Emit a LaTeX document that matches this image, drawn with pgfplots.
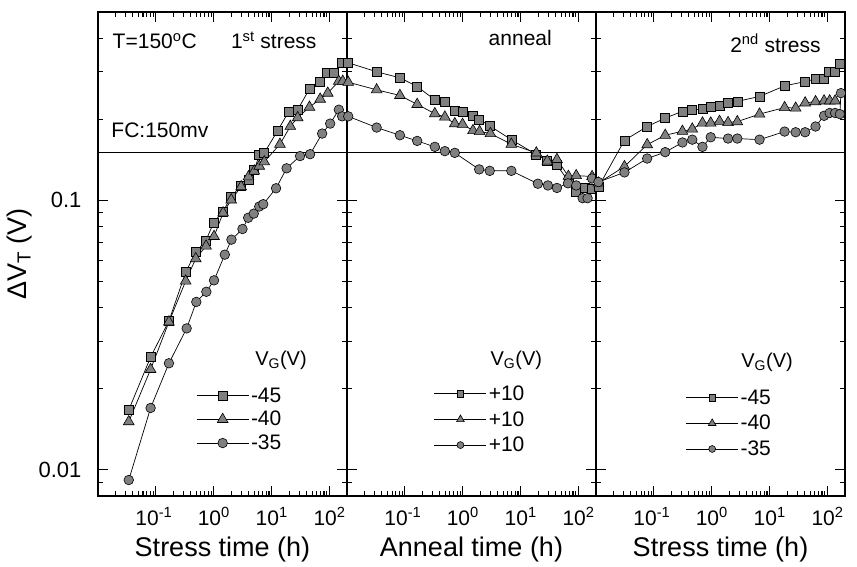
\documentclass[border=0pt]{standalone}
\usepackage{fontspec}
\setmainfont{Liberation Sans}
\usepackage{pgfplots}
\pgfplotsset{compat=1.18}
\definecolor{mk}{gray}{0.5}
\newcommand{\fs}[1]{\fontsize{#1}{#1}\selectfont}
\newcommand{\xlabels}[1]{%
  \node[anchor=base, font=\fs{21}] at (axis cs:0.1,0.008) [xshift=-2pt, yshift=-29pt] {10\textsuperscript{-1}};
  \node[anchor=base, font=\fs{21}] at (axis cs:1,0.008) [yshift=-29pt] {10\textsuperscript{0}};
  \node[anchor=base, font=\fs{21}] at (axis cs:10,0.008) [yshift=-29pt] {10\textsuperscript{1}};
  \node[anchor=base, font=\fs{21}] at (axis cs:100,0.008) [yshift=-29pt] {10\textsuperscript{2}};
  \node[anchor=base, font=\fs{27}] at (axis description cs:0.5,0) [yshift=-60pt] {#1};
}
\tikzset{
  sq/.style={black, line width=0.7pt, mark=square*, mark size=4.5pt, mark options={fill=mk, draw=black, line width=0.6pt, solid}},
  tri/.style={black, line width=0.7pt, mark=triangle*, mark size=6.2pt, mark options={fill=mk, draw=black, line width=0.6pt, solid}},
  ci/.style={black, line width=0.7pt, mark=*, mark size=4.8pt, mark options={fill=mk, draw=black, line width=0.6pt, solid}},
}
\pgfplotsset{
  legend image code/.code={\draw[mark repeat=2,mark phase=2,#1] plot coordinates {(0pt,0pt) (26pt,0pt) (52pt,0pt)};},
  every axis/.append style={
    scale only axis, width=249pt, height=484pt,
    clip=false,
    xmode=log, ymode=log, xmin=0.01, xmax=200, ymin=0.008, ymax=0.5,
    axis line style={line width=1.4pt},
    tick align=inside, major tick length=10pt, minor tick length=5pt,
    every tick/.append style={black, line width=1.1pt},
    tick pos=both,
    xtick={0.1,1,10,100},
    xticklabels={},
    minor xtick={0.02,0.03,0.04,0.05,0.06,0.07,0.08,0.09,0.2,0.3,0.4,0.5,0.6,0.7,0.8,0.9,2,3,4,5,6,7,8,9,20,30,40,50,60,70,80,90,200},
    ytick={0.01,0.1},
    minor ytick={0.009,0.02,0.03,0.04,0.05,0.06,0.07,0.08,0.09,0.2,0.3,0.4},
    yticklabels={},
    yticklabel style={font=\fs{22}, xshift=-13pt},
    ylabel style={font=\fs{27}},
    legend style={draw=none, fill=none, font=\fs{21}, row sep=3.5pt, inner sep=0pt},
    legend cell align=left,
  },
}
\begin{document}
\begin{tikzpicture}[x=1pt,y=1pt]
\path[use as bounding box] (0,0) rectangle (857,567);
% ---------------- Panel 1: 1st stress
\begin{axis}[at={(98pt,71pt)}, anchor=south west,
  yticklabels={{\fs{22}0.01},{\fs{22}0.1}},
  ylabel={ΔV\textsubscript{T} (V)},
  legend style={at={(axis description cs:0.394,0.228)}, anchor=north west}]
\addplot[sq] coordinates {(0.034,0.0167) (0.081,0.0262) (0.168,0.0357) (0.327,0.0541) (0.488,0.0643) (0.73,0.0709) (1.0,0.0829) (1.45,0.091) (2.0,0.1033) (2.95,0.1134) (4.0,0.119) (5.0,0.130) (6.1,0.147) (7.45,0.150) (12.6,0.181) (19.6,0.213) (28.1,0.217) (44.9,0.259) (66.8,0.276) (89.4,0.298) (118,0.298) (163,0.324)};
\addlegendentry{-45}
\addplot[tri] coordinates {(0.034,0.0151) (0.081,0.0236) (0.168,0.0354) (0.327,0.0502) (0.488,0.0608) (0.735,0.0677) (1.01,0.0735) (1.45,0.0899) (2.0,0.1004) (2.97,0.1124) (3.98,0.1224) (5.0,0.1285) (6.1,0.134) (7.45,0.139) (13.9,0.1616) (21,0.1883) (28.1,0.2028) (44.9,0.2218) (68.8,0.2375) (93,0.25) (144,0.2767) (169,0.2767)};
\addlegendentry{-40}
\addplot[ci] coordinates {(0.034,0.00917) (0.081,0.01697) (0.168,0.02487) (0.34,0.0335) (0.499,0.042) (0.744,0.0458) (1.01,0.0505) (1.55,0.0629) (2.02,0.0715) (3.13,0.0783) (3.93,0.0862) (4.9,0.0893) (6.1,0.0949) (7.15,0.0968) (11.9,0.1109) (18.1,0.1315) (30.9,0.146) (46.1,0.1484) (74.5,0.177) (102.4,0.1927) (144.5,0.217) (165,0.205)};
\addlegendentry{-35}
\addplot[black, line width=0.9pt, no marks, forget plot] coordinates {(0.01,0.15) (200,0.15)};
\xlabels{Stress time (h)}
\node[font=\fs{21}, anchor=base west] at (axis description cs:0.045,0.924) {T=150\textsuperscript{o}C};
\node[font=\fs{21}, anchor=base west] at (axis description cs:0.52,0.924) {1\textsuperscript{st} stress};
\node[font=\fs{21}, anchor=base west] at (axis description cs:0.04,0.74) {FC:150mv};
\node[font=\fs{20}] at (axis description cs:0.735,0.28) {V\textsubscript{G}(V)};
\end{axis}
% ---------------- Panel 2: anneal
\begin{axis}[at={(347pt,71pt)}, anchor=south west,
  legend image code/.code={\draw[mark repeat=2,mark phase=2,#1,every mark/.append style={scale=0.72}] plot coordinates {(0pt,0pt) (26pt,0pt) (52pt,0pt)};},
  legend style={at={(axis description cs:0.349,0.2325)}, anchor=north west, row sep=5.5pt}]
\addplot[sq] coordinates {(0.0105,0.324) (0.0325,0.300) (0.082,0.285) (0.163,0.2645) (0.329,0.236) (0.49,0.233) (0.728,0.2145) (0.99,0.2127) (1.47,0.2056) (1.92,0.1998) (2.92,0.189) (6.9,0.168) (18.6,0.148) (28.8,0.140) (42.3,0.135) (66.7,0.118) (91,0.108) (127,0.111) (171,0.110)};
\addlegendentry{+10}
\addplot[tri] coordinates {(0.0105,0.2744) (0.0325,0.2572) (0.082,0.2451) (0.163,0.2271) (0.329,0.2098) (0.49,0.2038) (0.728,0.1927) (0.99,0.1916) (1.5,0.1816) (1.95,0.1802) (3.0,0.177) (6.9,0.1616) (18.6,0.150) (28.8,0.1399) (42.3,0.1419) (66.7,0.1228) (91,0.1236) (171,0.1226)};
\addlegendentry{+10}
\addplot[ci] coordinates {(0.0105,0.205) (0.0325,0.1863) (0.082,0.1745) (0.163,0.1662) (0.329,0.158) (0.49,0.1523) (0.728,0.1501) (1.92,0.1303) (2.92,0.1287) (6.9,0.1287) (19.8,0.1153) (29.5,0.1136) (42.3,0.1112) (65.6,0.1157) (91,0.1136) (117.5,0.1019) (143,0.1019) (171,0.1206)};
\addlegendentry{+10}
\addplot[black, line width=0.9pt, no marks, forget plot] coordinates {(0.01,0.15) (200,0.15)};
\xlabels{Anneal time (h)}
\node[font=\fs{21}, anchor=base west] at (axis description cs:0.555,0.93) {anneal};
\node[font=\fs{20}] at (axis description cs:0.68,0.28) {V\textsubscript{G}(V)};
\end{axis}
% ---------------- Panel 3: 2nd stress
\begin{axis}[at={(596pt,71pt)}, anchor=south west,
  legend image code/.code={\draw[mark repeat=2,mark phase=2,#1,every mark/.append style={scale=0.72}] plot coordinates {(0pt,0pt) (26pt,0pt) (52pt,0pt)};},
  legend style={at={(axis description cs:0.36,0.224)}, anchor=north west, row sep=5.5pt}]
\addplot[sq] coordinates {(0.011,0.112) (0.031,0.167) (0.0766,0.188) (0.157,0.202) (0.311,0.214) (0.46,0.216) (0.69,0.219) (0.958,0.222) (1.36,0.2236) (1.91,0.231) (2.76,0.233) (6.68,0.243) (18.1,0.266) (41,0.276) (62,0.282) (87,0.282) (104,0.299) (135,0.299) (163,0.322)};
\addlegendentry{-45}
\addplot[tri] coordinates {(0.011,0.116) (0.031,0.1335) (0.0766,0.161) (0.157,0.1745) (0.311,0.1805) (0.46,0.184) (0.69,0.1937) (0.958,0.1937) (1.36,0.1965) (1.91,0.1945) (2.76,0.196) (6.68,0.209) (18.1,0.221) (28.1,0.220) (41,0.230) (62,0.2325) (87,0.234) (108.7,0.234) (135,0.234)};
\addlegendentry{-40}
\addplot[ci] coordinates {(0.011,0.117) (0.031,0.127) (0.0766,0.143) (0.157,0.151) (0.311,0.164) (0.46,0.168) (0.69,0.158) (0.958,0.1715) (1.91,0.1696) (2.76,0.1696) (6.68,0.168) (18.1,0.180) (28.1,0.179) (41,0.179) (62,0.188) (87,0.206) (108.7,0.211) (135,0.211) (163,0.209) (170,0.25)};
\addlegendentry{-35}
\addplot[black, line width=0.9pt, no marks, forget plot] coordinates {(0.01,0.15) (200,0.15)};
\xlabels{Stress time (h)}
\node[font=\fs{21}, anchor=base west] at (axis description cs:0.525,0.917) {2\textsuperscript{nd} stress};
\node[font=\fs{20}] at (axis description cs:0.687,0.276) {V\textsubscript{G}(V)};
\end{axis}
\end{tikzpicture}
\end{document}
